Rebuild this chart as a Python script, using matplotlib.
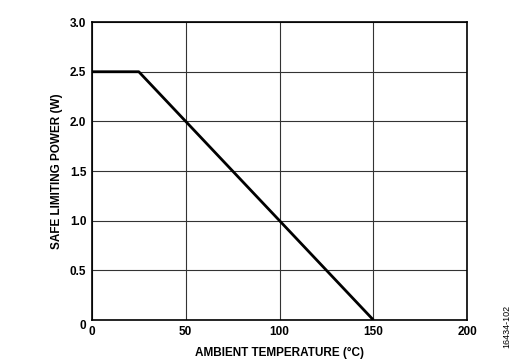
import matplotlib
matplotlib.use("Agg")
import matplotlib.pyplot as plt
from matplotlib.transforms import ScaledTranslation

# derating curve: safe limiting power vs ambient temperature
temp_c = [0, 25, 150]
power_w = [2.5, 2.5, 0]
x_ticks = [0, 50, 100, 150, 200]
y_ticks = [0, 0.5, 1.0, 1.5, 2.0, 2.5, 3.0]
y_tick_labels = ["0", "0.5", "1.0", "1.5", "2.0", "2.5", "3.0"]

plt.rcParams['font.family'] = ['Liberation Sans', 'DejaVu Sans']

fig = plt.figure(figsize=(5.25, 3.62), dpi=100)
ax = fig.add_axes([0.175, 0.116, 0.715, 0.823])

ax.plot(temp_c, power_w, color="black", lw=2.0, solid_capstyle="butt", zorder=3)

ax.set_xlim(0, 200)
ax.set_ylim(0, 3.0)
ax.set_xticks(x_ticks)
ax.set_yticks(y_ticks)
ax.set_yticklabels(y_tick_labels)
ax.tick_params(length=0, labelsize=8.5, pad=4)
for lab in ax.get_xticklabels() + ax.get_yticklabels():
    lab.set_fontweight("bold")
# the "0" on the y axis sits a little lower than the rest
ylabs = ax.get_yticklabels()
ylabs[0].set_transform(ylabs[0].get_transform() + ScaledTranslation(0, -3 / 72, fig.dpi_scale_trans))
ax.grid(True, color="#333333", lw=0.8)
for s in ax.spines.values():
    s.set_linewidth(1.2)
    s.set_color("black")

ax.set_xlabel("AMBIENT TEMPERATURE (°C)", fontsize=8.5, fontweight="bold", labelpad=7)
ax.set_ylabel("SAFE LIMITING POWER (W)", fontsize=8.5, fontweight="bold", labelpad=5)

fig.text(0.966, 0.04, "16434-102", rotation=90, fontsize=6.5, ha="center", va="bottom")

fig.savefig("out.png", dpi=100)
